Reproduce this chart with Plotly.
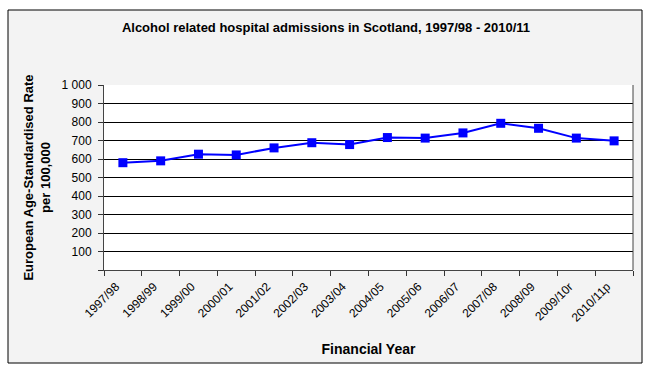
import plotly.graph_objects as go

years = ["1997/98", "1998/99", "1999/00", "2000/01", "2001/02", "2002/03", "2003/04",
         "2004/05", "2005/06", "2006/07", "2007/08", "2008/09", "2009/10r", "2010/11p"]
rates = [580, 590, 626, 622, 660, 688, 678, 716, 713, 741, 793, 766, 713, 698]
ytick_vals = [0, 100, 200, 300, 400, 500, 600, 700, 800, 900, 1000]
ytick_text = ["", "100", "200", "300", "400", "500", "600", "700", "800", "900", "1 000"]

FONT = "Liberation Sans, Arial, sans-serif"

fig = go.Figure()
fig.add_trace(go.Scatter(
    x=years, y=rates, mode="lines+markers",
    line=dict(color="#0000FF", width=2),
    marker=dict(symbol="square", size=9, color="#0000FF"),
    showlegend=False, cliponaxis=False,
))

fig.update_layout(
    width=651, height=370,
    margin=dict(l=104, r=18, t=85, b=100, autoexpand=False),
    paper_bgcolor="#ffffff", plot_bgcolor="#ffffff",
    font=dict(family=FONT, size=11, color="#000000"),
    title=dict(text="<b>Alcohol related hospital admissions in Scotland, 1997/98 - 2010/11</b>",
               x=326 / 651, xanchor="center", y=1 - 27 / 370, yanchor="middle",
               font=dict(family=FONT, size=13, color="#000")),
    xaxis=dict(
        type="category", range=[-0.5, len(years) - 0.5],
        tickangle=-45, tickson="boundaries",
        ticks="outside", ticklen=5, tickcolor="#333", showgrid=False,
        showline=True, linecolor="#444", linewidth=1, mirror=False,
        ticklabelshift=-7, ticklabelstandoff=4,
        tickfont=dict(family=FONT, size=12, color="#000"),
        title=dict(text="<b>Financial Year</b>", standoff=20,
                   font=dict(family=FONT, size=14, color="#000")),
    ),
    yaxis=dict(
        range=[0, 1000], tickvals=ytick_vals, ticktext=ytick_text,
        ticks="outside", ticklen=5, tickcolor="#333",
        showgrid=True, gridcolor="#000000", gridwidth=1,
        showline=True, linecolor="#444", linewidth=1, zeroline=False,
        ticklabelstandoff=4,
        tickfont=dict(family=FONT, size=12, color="#000"),
        title=dict(text="<b>European Age-Standardised Rate<br>per 100,000</b>", standoff=8,
                   font=dict(family=FONT, size=13, color="#000")),
    ),
    shapes=[
        # outer chart border with light grey fill
        dict(type="rect", xref="paper", yref="paper",
             xsizemode="pixel", ysizemode="pixel", xanchor=0, yanchor=0,
             x0=-96, x1=538, y0=-93, y1=260,
             line=dict(color="#000", width=1), fillcolor="#f3f3f3", layer="below"),
        # white plot area
        dict(type="rect", xref="paper", yref="paper", x0=0, x1=1, y0=0, y1=1,
             line=dict(width=0), fillcolor="#ffffff", layer="below"),
        # right edge of plot area
        dict(type="line", xref="paper", yref="paper", x0=1, x1=1, y0=0, y1=1,
             line=dict(color="#444", width=1)),
    ],
)

fig.write_html("out.html", config={"displayModeBar": False},
               post_script="document.body.style.margin='0';")
